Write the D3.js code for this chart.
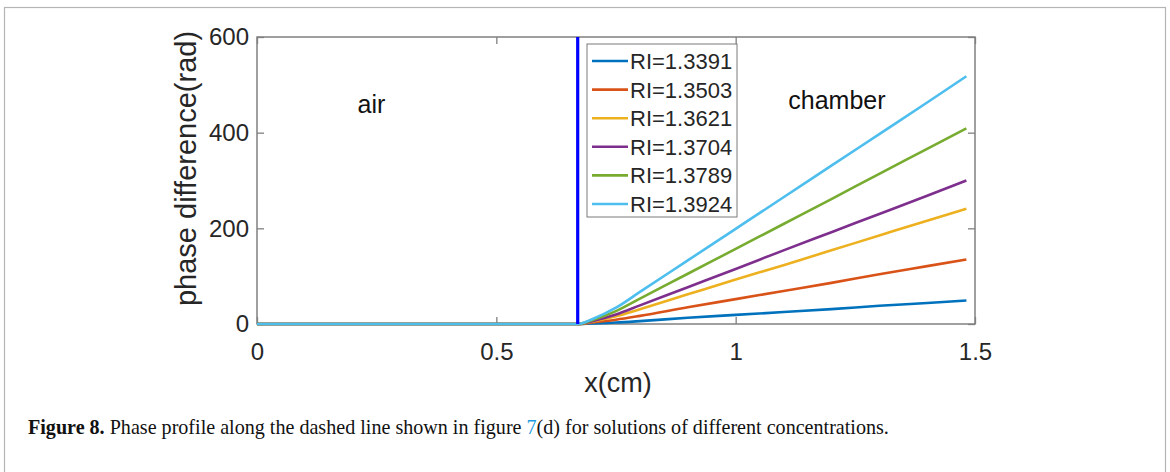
<!DOCTYPE html>
<html>
<head>
<meta charset="utf-8">
<script src="https://cdn.jsdelivr.net/npm/d3@7"></script>
<style>
  html, body { margin: 0; padding: 0; background: #fff; }
  svg { display: block; }
</style>
</head>
<body>
<script>
// Sample positions along the profile (cm)
const xPos = [0, 0.67, 0.70, 0.75, 0.80, 0.90, 1.00, 1.10, 1.20, 1.30, 1.40, 1.482];

// Phase difference (rad) for each refractive index
const riLabels = ["RI=1.3391", "RI=1.3503", "RI=1.3621", "RI=1.3704", "RI=1.3789", "RI=1.3924"];
const ri13391 = [0, 0, 1, 3, 6, 13, 19, 25, 31, 38, 44, 49];
const ri13503 = [0, 0, 3, 9, 17, 35, 52, 69, 86, 104, 121, 135];
const ri13621 = [0, 0, 5, 16, 31, 62, 93, 123, 154, 185, 216, 241];
const ri13704 = [0, 0, 6, 20, 39, 77, 115, 154, 192, 230, 268, 300];
const ri13789 = [0, 0, 8, 27, 53, 105, 157, 209, 261, 314, 366, 409];
const ri13924 = [0, 0, 10, 34, 67, 133, 199, 265, 331, 397, 463, 518];
const seriesValues = [ri13391, ri13503, ri13621, ri13704, ri13789, ri13924];
const seriesColors = ["#0072BD", "#D95319", "#EDB120", "#7E2F8E", "#77AC30", "#4DBEEE"];

// Boundary between air and chamber
const boundaryX = 0.67;

const xTicks = [0, 0.5, 1, 1.5];
const xTickLabels = ["0", "0.5", "1", "1.5"];
const yTicks = [0, 200, 400, 600];
const yTickLabels = ["0", "200", "400", "600"];
const regionLabels = [{ text: "air", x: 0.21, y: 441 }, { text: "chamber", x: 1.11, y: 449 }];

const W = 1170, H = 472;
const plot = { left: 257, top: 37, right: 975, bottom: 324 };
const axisGray = "#808080";
const textGray = "#262626";

const svg = d3.select("body").append("svg").attr("width", W).attr("height", H);
svg.append("rect").attr("width", W).attr("height", H).attr("fill", "#fff");

// Page frame around the figure
svg.append("rect")
  .attr("x", 4.5).attr("y", 7.5).attr("width", 1161).attr("height", 520)
  .attr("fill", "none").attr("stroke", "#b5b5b5").attr("stroke-width", 1.2);

const x = d3.scaleLinear().domain([0, 1.5]).range([plot.left, plot.right]);
const y = d3.scaleLinear().domain([0, 600]).range([plot.bottom, plot.top]);

const font = "'Liberation Sans', Arial, Helvetica, sans-serif";

// Axes box (drawn beneath the data)
svg.append("rect")
  .attr("x", plot.left).attr("y", plot.top)
  .attr("width", plot.right - plot.left).attr("height", plot.bottom - plot.top)
  .attr("fill", "none").attr("stroke", axisGray).attr("stroke-width", 1.5);

// Axes with inward ticks on all four sides
const gx = svg.append("g").attr("transform", `translate(0,${plot.bottom})`)
  .call(d3.axisBottom(x).tickValues(xTicks).tickFormat((d, i) => xTickLabels[i])
    .tickSizeInner(-7).tickSizeOuter(0).tickPadding(19));
const gy = svg.append("g").attr("transform", `translate(${plot.left},0)`)
  .call(d3.axisLeft(y).tickValues(yTicks).tickFormat((d, i) => yTickLabels[i])
    .tickSizeInner(-7).tickSizeOuter(0).tickPadding(8));
const gt = svg.append("g").attr("transform", `translate(0,${plot.top})`)
  .call(d3.axisTop(x).tickValues(xTicks).tickFormat("").tickSizeInner(-7).tickSizeOuter(0));
const gr = svg.append("g").attr("transform", `translate(${plot.right},0)`)
  .call(d3.axisRight(y).tickValues(yTicks).tickFormat("").tickSizeInner(-7).tickSizeOuter(0));

[gx, gy, gt, gr].forEach(g => {
  g.select(".domain").remove();
  g.selectAll(".tick line").attr("stroke", axisGray).attr("stroke-width", 1.3);
  g.selectAll(".tick text").attr("fill", textGray).attr("font-family", font).attr("font-size", 24);
});

// Data lines
const line = d3.line().x((d, i) => x(xPos[i])).y(d => y(d)).curve(d3.curveMonotoneX);
svg.append("g").selectAll("path").data(seriesValues).join("path")
  .attr("d", d => line(d))
  .attr("fill", "none")
  .attr("stroke", (d, i) => seriesColors[i])
  .attr("stroke-width", 2.6)
  .attr("stroke-linejoin", "round");

// Air/chamber boundary
svg.append("line")
  .attr("x1", x(boundaryX)).attr("x2", x(boundaryX))
  .attr("y1", y(0)).attr("y2", y(600))
  .attr("stroke", "#0000FF").attr("stroke-width", 3.2);

// Region labels
svg.append("g").selectAll("text").data(regionLabels).join("text")
  .attr("x", d => x(d.x)).attr("y", d => y(d.y))
  .attr("font-family", font).attr("font-size", 25).attr("fill", "#111")
  .text(d => d.text);

// Axis titles
svg.append("text")
  .attr("x", (plot.left + plot.right) / 2 + 2).attr("y", 392)
  .attr("text-anchor", "middle").attr("font-family", font).attr("font-size", 27)
  .attr("fill", textGray).text("x(cm)");
svg.append("text")
  .attr("transform", `translate(196,${(plot.top + plot.bottom) / 2 - 12}) rotate(-90)`)
  .attr("text-anchor", "middle").attr("font-family", font).attr("font-size", 29)
  .attr("fill", textGray).text("phase difference(rad)");

// Legend
const legend = svg.append("g").attr("transform", "translate(587,44)");
legend.append("rect").attr("width", 150).attr("height", 173)
  .attr("fill", "#fff").attr("stroke", "#7a7a7a").attr("stroke-width", 1);
const rows = legend.selectAll("g").data(riLabels).join("g")
  .attr("transform", (d, i) => `translate(0,${17 + i * 28.6})`);
rows.append("line").attr("x1", 5).attr("x2", 41)
  .attr("stroke", (d, i) => seriesColors[i]).attr("stroke-width", 2.6);
rows.append("text").attr("x", 43).attr("dy", "0.36em")
  .attr("font-family", font).attr("font-size", 22).attr("fill", textGray)
  .text(d => d);

// Caption
const cap = svg.append("text").attr("x", 28).attr("y", 434)
  .attr("font-family", "'Liberation Serif', 'Times New Roman', serif")
  .attr("font-size", 20.1).attr("fill", "#111");
cap.append("tspan").attr("font-weight", "bold").text("Figure 8.");
cap.append("tspan").text(" Phase profile along the dashed line shown in figure ");
cap.append("tspan").attr("fill", "#1a9be0").text("7");
cap.append("tspan").text("(d) for solutions of different concentrations.");
</script>
</body>
</html>
